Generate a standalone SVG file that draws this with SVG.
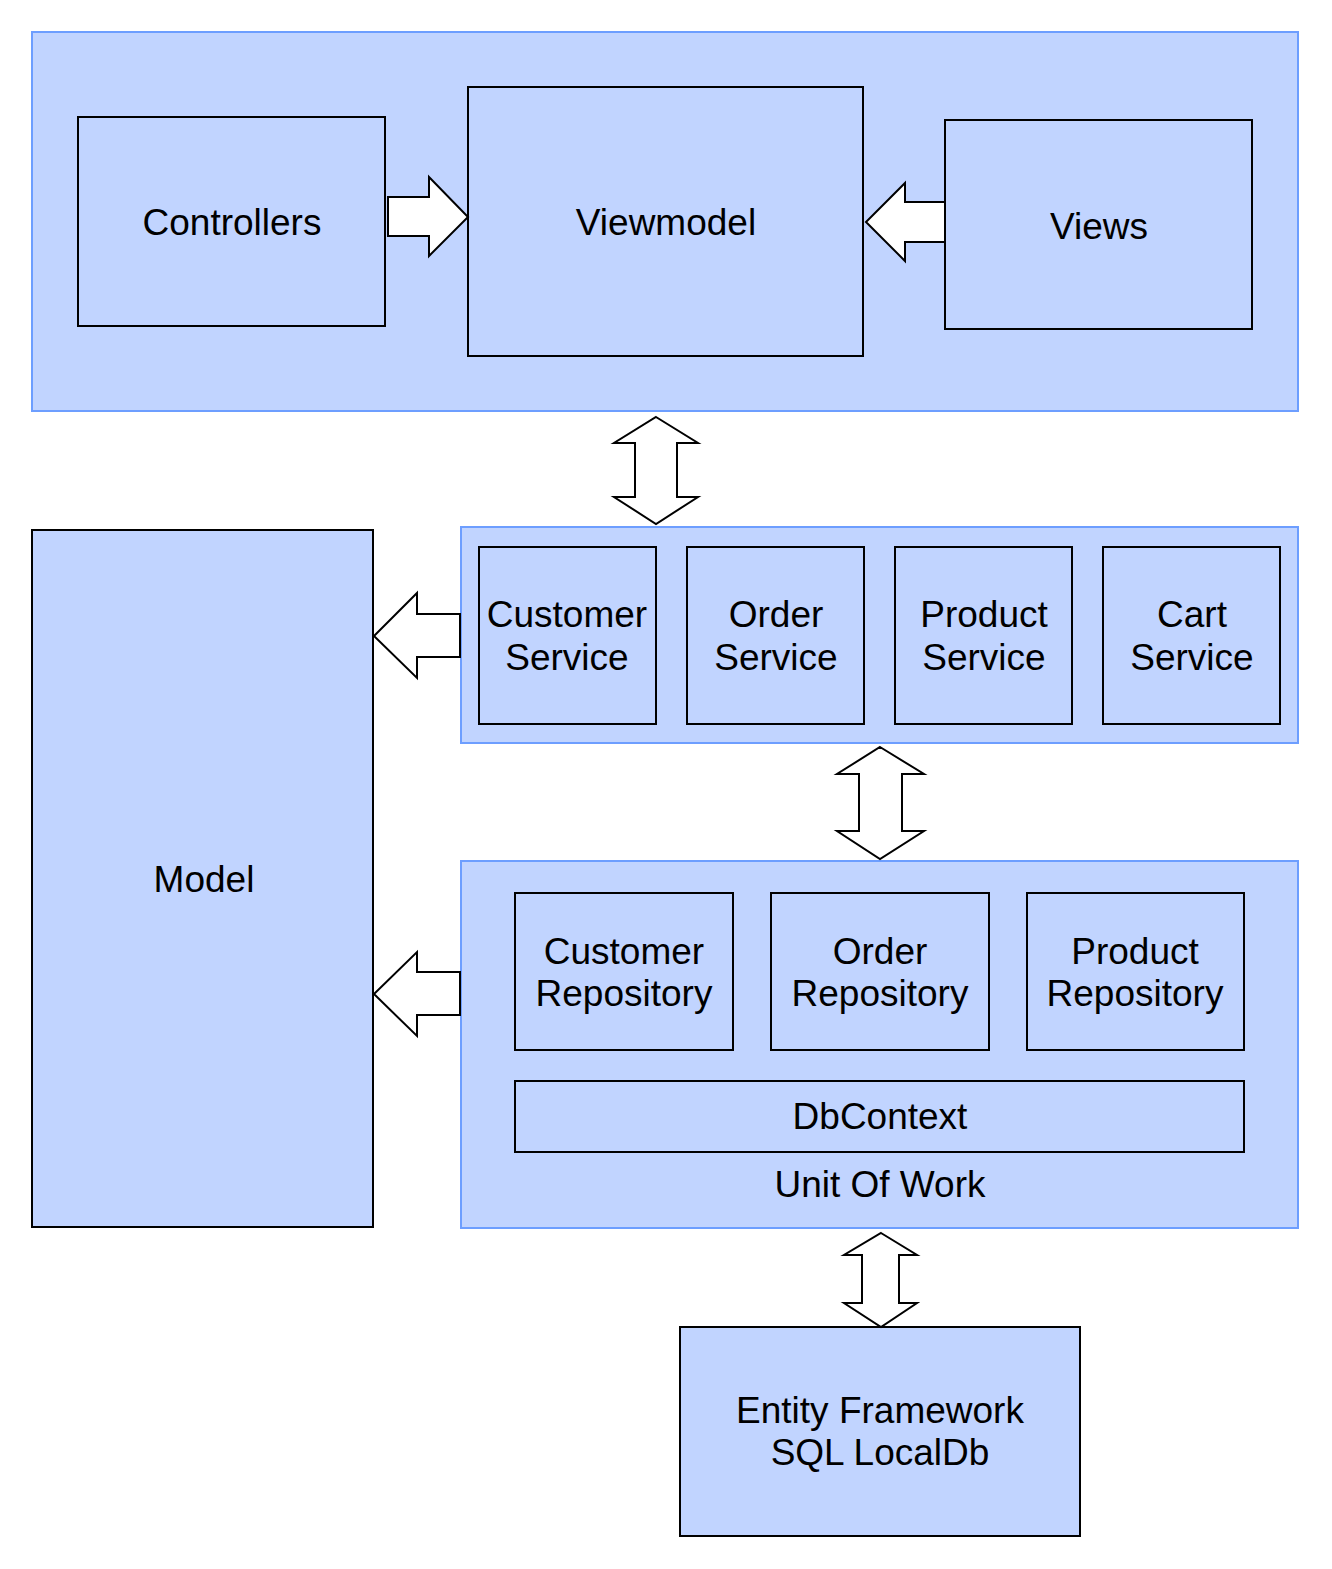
<svg xmlns="http://www.w3.org/2000/svg" width="1332" height="1569" viewBox="0 0 1332 1569">
<style>
.c{fill:#C1D4FF;stroke:#6D9EFF;stroke-width:2}
.b{fill:#C1D4FF;stroke:#000;stroke-width:2}
.a{fill:#fff;stroke:#000;stroke-width:2;stroke-linejoin:miter}
text{font-family:"Liberation Sans",Arial,sans-serif;font-size:37px;fill:#000;text-anchor:middle}
</style>
<rect width="1332" height="1569" fill="#fff"/>
<g id="presentation"><rect class="c" x="32" y="32" width="1266" height="379"/></g>
<g id="controllers"><rect class="b" x="78" y="117" width="307" height="209"/><text x="232" y="235">Controllers</text></g>
<g id="viewmodel"><rect class="b" x="468" y="87" width="395" height="269"/><text x="666" y="235">Viewmodel</text></g>
<g id="views"><rect class="b" x="945" y="120" width="307" height="209"/><text x="1099" y="239">Views</text></g>
<g id="services"><rect class="c" x="461" y="527" width="837" height="216"/></g>
<g id="customer-service"><rect class="b" x="479" y="547" width="177" height="177"/><text x="567" y="627">Customer</text><text x="567" y="670">Service</text></g>
<g id="order-service"><rect class="b" x="687" y="547" width="177" height="177"/><text x="776" y="627">Order</text><text x="776" y="670">Service</text></g>
<g id="product-service"><rect class="b" x="895" y="547" width="177" height="177"/><text x="984" y="627">Product</text><text x="984" y="670">Service</text></g>
<g id="cart-service"><rect class="b" x="1103" y="547" width="177" height="177"/><text x="1192" y="627">Cart</text><text x="1192" y="670">Service</text></g>
<g id="model"><rect class="b" x="32" y="530" width="341" height="697"/><text x="204" y="892">Model</text></g>
<g id="repositories"><rect class="c" x="461" y="861" width="837" height="367"/><text x="880" y="1197">Unit Of Work</text></g>
<g id="customer-repository"><rect class="b" x="515" y="893" width="218" height="157"/><text x="624" y="964">Customer</text><text x="624" y="1006">Repository</text></g>
<g id="order-repository"><rect class="b" x="771" y="893" width="218" height="157"/><text x="880" y="964">Order</text><text x="880" y="1006">Repository</text></g>
<g id="product-repository"><rect class="b" x="1027" y="893" width="217" height="157"/><text x="1135" y="964">Product</text><text x="1135" y="1006">Repository</text></g>
<g id="dbcontext"><rect class="b" x="515" y="1081" width="729" height="71"/><text x="880" y="1129">DbContext</text></g>
<g id="entity-framework"><rect class="b" x="680" y="1327" width="400" height="209"/><text x="880" y="1423">Entity Framework</text><text x="880" y="1465">SQL LocalDb</text></g>
<g id="connectors">
<polygon class="a" points="388,197 429,197 429,177 468,217 429,256 429,236 388,236"/>
<polygon class="a" points="945,202 905,202 905,183 866,222 905,261 905,242 945,242"/>
<polygon class="a" points="656,417 698,443 677,443 677,497 698,497 656,524 614,497 635,497 635,443 614,443"/>
<polygon class="a" points="460,614 417,614 417,593 374,636 417,678 417,657 460,657"/>
<polygon class="a" points="880,747 924,774 902,774 902,831 924,831 880,859 837,831 859,831 859,774 837,774"/>
<polygon class="a" points="460,972 417,972 417,952 374,994 417,1036 417,1015 460,1015"/>
<polygon class="a" points="881,1233 917,1255 899,1255 899,1303 917,1303 881,1327 844,1303 862,1303 862,1255 844,1255"/>
</g>
</svg>
